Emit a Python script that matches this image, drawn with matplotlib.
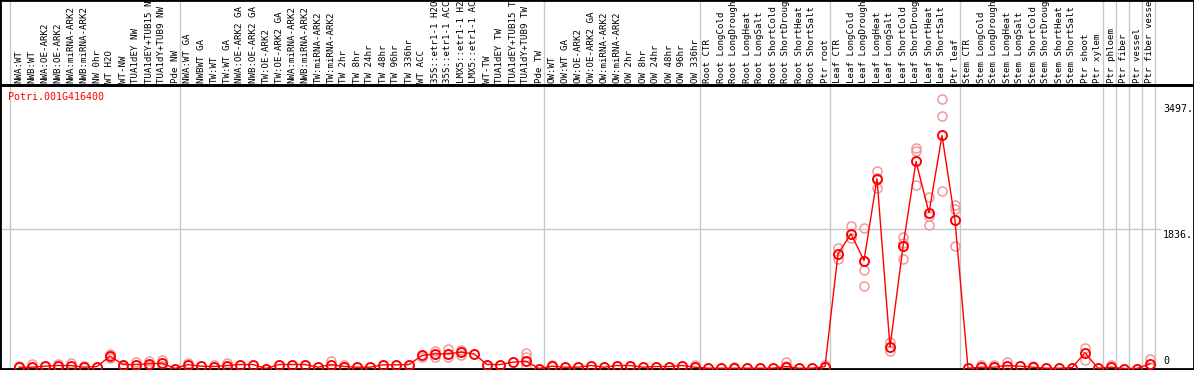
import matplotlib
matplotlib.use("Agg")
import matplotlib.pyplot as plt
import matplotlib.transforms as mtransforms
import numpy as np

# sample labels (88 columns), grouped
labels = [
    "NWA:WT", "NWB:WT", "NWA:OE-ARK2", "NWB:OE-ARK2", "NWA:miRNA-ARK2", "NWB:miRNA-ARK2",
    "NW 0hr", "WT H2O", "WT-NW", "TUA1dEY NW", "TUA1dEY+TUB15 NW", "TUA1dY+TUB9 NW", "Pde NW",
    "NWA:WT GA", "NWBWT GA", "TW:WT", "TW:WT GA", "NWA:OE-ARK2 GA", "NWB:OE-ARK2 GA",
    "TW:OE-ARK2", "TW:OE-ARK2 GA", "NWA:miRNA-ARK2", "NWB:miRNA-ARK2", "TW:miRNA-ARK2",
    "TW:miRNA-ARK2", "TW 2hr", "TW 8hr", "TW 24hr", "TW 48hr", "TW 96hr", "TW 336hr",
    "WT ACC", "35S::etr1-1 H2O", "35S::etr1-1 ACC", "LMX5::etr1-1 H2O", "LMX5::etr1-1 ACC",
    "WT-TW", "TUA1dEY TW", "TUA1dEY+TUB15 TW", "TUA1dY+TUB9 TW", "Pde TW",
    "OW:WT", "OW:WT GA", "OW:OE-ARK2", "OW:OE-ARK2 GA", "OW:miRNA-ARK2", "OW:miRNA-ARK2",
    "OW 2hr", "OW 8hr", "OW 24hr", "OW 48hr", "OW 96hr", "OW 336hr",
    "Root CTR", "Root LongCold", "Root LongDrought", "Root LongHeat", "Root LongSalt",
    "Root ShortCold", "Root ShortDrought", "Root ShortHeat", "Root ShortSalt", "Ptr root",
    "Leaf CTR", "Leaf LongCold", "Leaf LongDrought", "Leaf LongHeat", "Leaf LongSalt",
    "Leaf ShortCold", "Leaf ShortDrought", "Leaf ShortHeat", "Leaf ShortSalt", "Ptr leaf",
    "Stem CTR", "Stem LongCold", "Stem LongDrought", "Stem LongHeat", "Stem LongSalt",
    "Stem ShortCold", "Stem ShortDrought", "Stem ShortHeat", "Stem ShortSalt", "Ptr shoot",
    "Ptr xylem",
    "Ptr phloem", "Ptr fiber", "Ptr vessel", "Ptr fiber vessel",
]
group_sizes = [13, 28, 12, 10, 10, 11, 1, 1, 1, 1]

# mean expression per sample
mean_vals = [
    17, 17, 30, 39, 39, 17, 26, 162, 52, 52, 61, 70, 0,
    52, 30, 26, 39, 52, 52, 0, 52, 52, 52, 17, 52, 26, 17, 17, 48, 48, 52,
    171, 192, 192, 214, 192, 52, 52, 83, 96, 0,
    30, 17, 17, 39, 17, 39, 39, 17, 26, 26, 39, 17,
    4, 4, 4, 4, 4, 4, 26, 4, 4, 25,
    1504, 1766, 1416, 2488, 280, 1600, 2715, 2042, 3056, 1941,
    4, 17, 17, 39, 30, 17, 4, 4, 11, 206, 4,
    17, 0, 0, 61,
]

# individual replicates (sample index, value)
rep_idx = [0, 1, 2, 3, 4, 5, 7, 7, 8, 9, 10, 10, 11, 11, 13, 15, 16, 24, 25,
           31, 32, 32, 33, 33, 34, 34, 39, 39, 39, 41, 52, 55, 59, 59, 62,
           63, 63, 64, 64, 65, 65, 65, 66, 66, 66, 67, 67, 68, 68, 68,
           69, 69, 69, 70, 70, 70, 71, 71, 71, 72, 72, 72,
           74, 75, 76, 78, 82, 82, 84, 87, 87]
rep_vals = [30, 61, 39, 61, 70, 39, 184, 140, 26, 83, 96, 39, 114, 39, 70, 52, 70, 92, 52,
            148, 236, 157, 258, 157, 245, 179, 201, 157, 39, 52, 52, 17, 83, 39, 52,
            1578, 1430, 1867, 1714, 1840, 1294, 1088, 2593, 2370, 2500, 345, 227, 1722, 1648, 1438,
            2890, 2846, 2409, 2247, 1884, 1995, 3540, 3305, 2334, 2138, 2094, 1600,
            40, 52, 79, 30, 275, 114, 52, 127, 17]

gene = "Potri.001G416400"
ytick_vals = [3497, 1836, 0]
ytick_text = ["3497.", "1836.", "0"]

W, H = 1194, 370
fig = plt.figure(figsize=(W / 100, H / 100), dpi=100)
mono = "DejaVu Sans Mono"

# plot area: px 85..369 from top
ax = fig.add_axes([0, 1 / H, 1, 284 / H])
x = np.arange(len(labels))
px_per_unit = 140 / 1836
ax.set_xlim(-19 / 13, (W - 19) / 13)
ax.set_ylim(-0.5 / px_per_unit, 283.5 / px_per_unit)
ax.set_xticks([])
ax.set_yticks([])
for s in ax.spines.values():
    s.set_color("black")
    s.set_linewidth(2)

# group separator lines through the whole figure
blend = mtransforms.blended_transform_factory(ax.transData, fig.transFigure)
bounds = [-0.7] + list(np.cumsum(group_sizes) - 0.6)
for b in bounds:
    ax.plot([b, b], [0, 1], color="#c8c8c8", lw=1, transform=blend,
            clip_on=False, zorder=0)

# horizontal gridline at middle tick
ax.plot([-1.45, 87.8], [1836, 1836], color="#c8c8c8", lw=1, zorder=0)

# replicates
ax.plot(rep_idx, rep_vals, "o", ms=6.5, mfc="none", mec="#f09a9a", mew=1.1,
        zorder=2, clip_on=False)
# mean line
ax.plot(x, mean_vals, "-", color="red", lw=1, zorder=3)
ax.plot(x, mean_vals, "o", ms=6.5, mfc="none", mec="red", mew=1.4, zorder=4,
        clip_on=False)

# y tick labels on right inside the plot
for v, t in zip(ytick_vals, ytick_text):
    va = "bottom" if v == 0 else "top"
    off = 3 if v == 0 else -2
    ax.annotate(t, (88.0, v), xytext=(0, off), textcoords="offset pixels",
                ha="left", va=va, fontsize=7.2, family=mono, color="black")

# gene name
fig.text(8 / W, 1 - 97 / H, gene, color="red", fontsize=7.2, family=mono,
         ha="left", va="center")

# column labels
for i, lab in enumerate(labels):
    ax.text(i, 1 - 83 / H, lab, rotation=90, ha="center", va="bottom",
            fontsize=6.6, family=mono, transform=blend, clip_on=False)

# frame around label area
lab_ax = fig.add_axes([0, 285 / H, 1, 85 / H])
lab_ax.set_facecolor("none")
lab_ax.set_xticks([])
lab_ax.set_yticks([])
for s in lab_ax.spines.values():
    s.set_color("black")
    s.set_linewidth(2)

fig.savefig("out.png", dpi=100)
